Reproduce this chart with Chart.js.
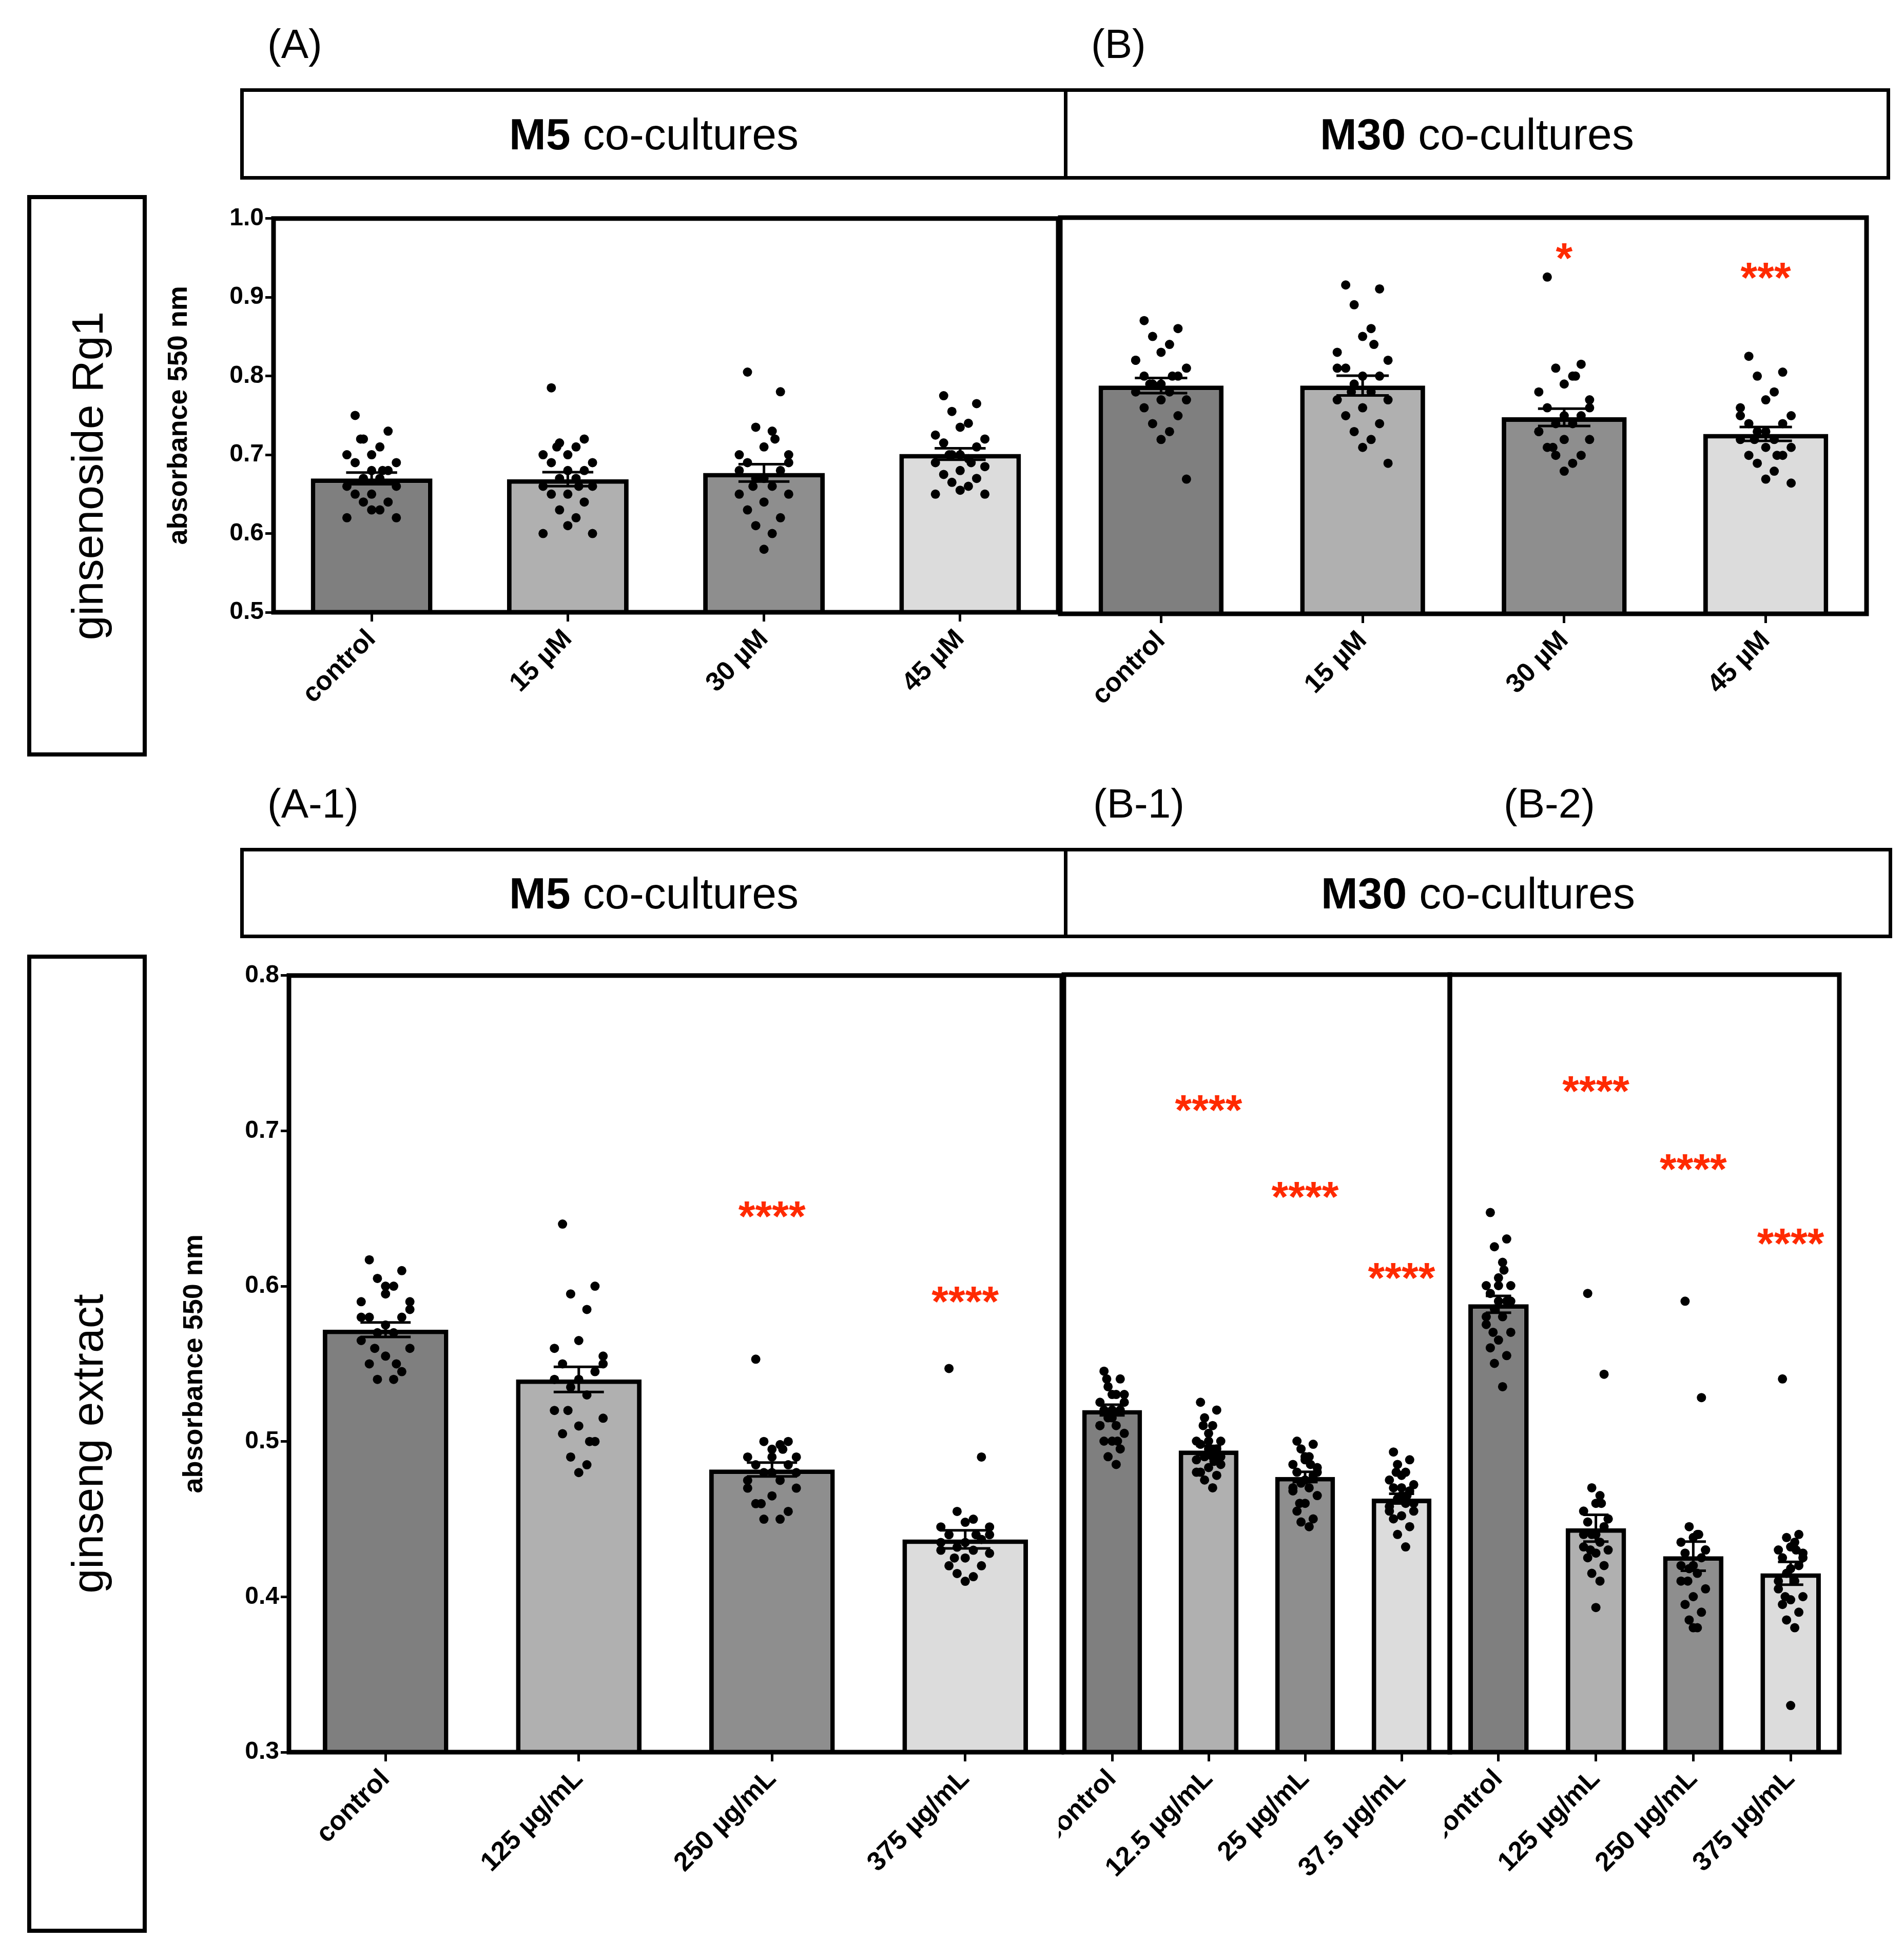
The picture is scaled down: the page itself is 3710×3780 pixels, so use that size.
<!DOCTYPE html>
<html><head><meta charset="utf-8">
<script src="https://cdn.jsdelivr.net/npm/chart.js@4/dist/chart.umd.min.js"></script>
<style>
body{margin:0;width:3710px;height:3780px;background:#fff;position:relative;font-family:"Liberation Sans",Arial,sans-serif;overflow:hidden}
.lbl{position:absolute;font-size:80px;color:#000}
.hbox{position:absolute;border:7px solid #000;box-sizing:border-box;display:flex;align-items:center;justify-content:center;font-size:86px}
.vbox{position:absolute;border:8px solid #000;box-sizing:border-box}
.vbox span{position:absolute;left:50%;top:50%;transform:translate(-50%,-50%) rotate(-90deg);white-space:nowrap;font-size:86px}
canvas{position:absolute}
</style></head><body>
<div class="lbl" style="left:521px;top:40px">(A)</div>
<div class="lbl" style="left:2126px;top:40px">(B)</div>
<div class="hbox" style="left:468px;top:172px;width:1612px;height:178px"><b>M5</b>&nbsp;co-cultures</div>
<div class="hbox" style="left:2073px;top:172px;width:1610px;height:178px"><b>M30</b>&nbsp;co-cultures</div>
<div class="vbox" style="left:53px;top:380px;width:233px;height:1094px"><span>ginsenoside Rg1</span></div>
<div class="lbl" style="left:521px;top:1520px">(A-1)</div>
<div class="lbl" style="left:2130px;top:1520px">(B-1)</div>
<div class="lbl" style="left:2930px;top:1520px">(B-2)</div>
<div class="hbox" style="left:468px;top:1652px;width:1612px;height:176px"><b>M5</b>&nbsp;co-cultures</div>
<div class="hbox" style="left:2073px;top:1652px;width:1614px;height:176px"><b>M30</b>&nbsp;co-cultures</div>
<div class="vbox" style="left:53px;top:1860px;width:233px;height:1906px"><span>ginseng extract</span></div>
<canvas id="cA"></canvas><canvas id="cB"></canvas><canvas id="cA1"></canvas><canvas id="cB1"></canvas><canvas id="cB2"></canvas>
<script>
const colors=['#7f7f7f','#b0b0b0','#8e8e8e','#dcdcdc'];
const catsRg1=['control','15 µM','30 µM','45 µM'];
const catsA1=['control','125 µg/mL','250 µg/mL','375 µg/mL'];
const catsB1=['control','12.5 µg/mL','25 µg/mL','37.5 µg/mL'];
const catsB2=['control','125 µg/mL','250 µg/mL','375 µg/mL'];
const meansA=[0.670,0.669,0.677,0.701];
const dotsA=[
[0.75,0.73,0.72,0.71,0.70,0.70,0.69,0.69,0.68,0.68,0.67,0.67,0.66,0.66,0.65,0.65,0.64,0.64,0.63,0.63,0.62,0.62,0.72,0.68],
[0.785,0.72,0.715,0.71,0.70,0.70,0.69,0.69,0.68,0.68,0.67,0.67,0.66,0.66,0.65,0.65,0.64,0.63,0.62,0.61,0.60,0.60,0.71,0.66],
[0.805,0.78,0.735,0.73,0.71,0.70,0.69,0.69,0.68,0.67,0.67,0.66,0.65,0.65,0.64,0.63,0.62,0.61,0.60,0.58,0.70,0.68,0.66,0.72],
[0.775,0.765,0.755,0.74,0.735,0.725,0.72,0.715,0.71,0.70,0.70,0.695,0.69,0.685,0.68,0.675,0.67,0.665,0.66,0.655,0.65,0.65,0.70,0.69]];
const meansB=[0.788,0.788,0.748,0.727];
const dotsB=[
[0.87,0.86,0.85,0.84,0.83,0.82,0.81,0.80,0.80,0.79,0.79,0.78,0.78,0.77,0.77,0.76,0.75,0.74,0.73,0.72,0.67,0.82,0.79,0.80],
[0.915,0.91,0.89,0.86,0.85,0.83,0.82,0.81,0.80,0.80,0.79,0.78,0.77,0.77,0.76,0.75,0.74,0.73,0.72,0.71,0.69,0.81,0.78,0.84],
[0.925,0.815,0.81,0.80,0.79,0.78,0.77,0.76,0.75,0.75,0.74,0.74,0.73,0.72,0.72,0.71,0.70,0.70,0.69,0.68,0.76,0.73,0.71,0.80],
[0.825,0.805,0.80,0.78,0.77,0.76,0.75,0.74,0.74,0.73,0.73,0.72,0.72,0.71,0.71,0.70,0.70,0.69,0.68,0.67,0.665,0.75,0.72,0.70]];
const starsB=['','','*','***'];const starYB=[0,0,0.955,0.93];
const meansA1=[0.572,0.540,0.482,0.437];
const dotsA1=[
[0.617,0.61,0.605,0.60,0.595,0.59,0.585,0.58,0.58,0.575,0.57,0.57,0.565,0.56,0.555,0.55,0.545,0.54,0.54,0.6,0.59,0.58,0.56,0.55],
[0.64,0.60,0.595,0.585,0.565,0.56,0.555,0.55,0.545,0.54,0.535,0.53,0.52,0.515,0.51,0.505,0.50,0.49,0.485,0.48,0.55,0.54,0.52,0.50],
[0.553,0.50,0.50,0.498,0.495,0.49,0.49,0.485,0.485,0.48,0.48,0.475,0.475,0.47,0.465,0.46,0.455,0.45,0.45,0.49,0.48,0.47,0.46,0.495],
[0.547,0.49,0.455,0.45,0.448,0.445,0.44,0.44,0.437,0.435,0.432,0.43,0.43,0.428,0.425,0.42,0.42,0.415,0.413,0.41,0.445,0.435,0.425,0.44]];
const starsA1=['','','****','****'];const starYA1=[0,0,0.648,0.593];
const meansB1=[0.520,0.494,0.477,0.463];
const dotsB1=[
[0.545,0.54,0.535,0.53,0.53,0.525,0.525,0.52,0.52,0.515,0.515,0.51,0.51,0.505,0.50,0.50,0.495,0.49,0.485,0.52,0.53,0.51,0.54,0.50],
[0.525,0.52,0.515,0.51,0.505,0.50,0.50,0.498,0.495,0.495,0.49,0.49,0.488,0.485,0.483,0.48,0.478,0.475,0.47,0.50,0.49,0.48,0.51,0.487],
[0.50,0.498,0.495,0.49,0.488,0.485,0.483,0.48,0.478,0.475,0.473,0.47,0.468,0.465,0.46,0.455,0.45,0.448,0.445,0.49,0.48,0.47,0.46,0.485],
[0.493,0.488,0.485,0.48,0.478,0.475,0.472,0.47,0.468,0.465,0.463,0.46,0.458,0.455,0.452,0.45,0.445,0.44,0.432,0.47,0.46,0.455,0.48,0.465]];
const starsB1=['','****','****','****'];const starYB1=[0,0.716,0.66,0.608];
const meansB2=[0.588,0.444,0.426,0.415];
const dotsB2=[
[0.647,0.63,0.625,0.615,0.605,0.60,0.60,0.595,0.59,0.59,0.585,0.58,0.575,0.57,0.565,0.56,0.555,0.55,0.535,0.6,0.59,0.58,0.57,0.61],
[0.595,0.543,0.47,0.465,0.46,0.455,0.45,0.448,0.445,0.44,0.44,0.435,0.432,0.43,0.428,0.425,0.42,0.415,0.41,0.393,0.45,0.44,0.43,0.46],
[0.59,0.528,0.445,0.44,0.438,0.435,0.43,0.428,0.425,0.42,0.418,0.415,0.41,0.405,0.40,0.395,0.39,0.385,0.38,0.38,0.43,0.42,0.41,0.44],
[0.54,0.44,0.438,0.435,0.432,0.43,0.428,0.425,0.42,0.418,0.415,0.41,0.405,0.40,0.398,0.395,0.39,0.385,0.38,0.33,0.425,0.41,0.40,0.43]];
const starsB2=['','****','****','****'];const starYB2=[0,0.728,0.678,0.63];
const jit=[-0.3,0.3,-0.15,0.15,0,-0.45,0.45,-0.3,0.3,0,-0.15,0.15,-0.45,0.45,0,-0.3,0.3,-0.15,0.15,0,0.45,-0.45,-0.2,0.2];

function make(id,o){
  const plotW=o.pr-o.pl, plotH=o.pb-o.pt, yw=o.yaxis?220:0, padL=o.yaxis?0:10;
  const c=document.getElementById(id);
  const W=yw+padL+plotW+10, H=30+plotH+380;
  c.width=W;c.height=H;c.style.left=(o.pl-yw-padL)+'px';c.style.top=(o.pt-30)+'px';
  const plug={id:'x',afterDatasetsDraw(ch){
    const g=ch.ctx,x=ch.scales.x,y=ch.scales.y,a=ch.chartArea;
    const bw=x.getPixelForValue(1)-x.getPixelForValue(0);
    o.dots.forEach((d,i)=>{
      const cx=x.getPixelForValue(i),m=o.means[i];
      const sd=Math.sqrt(d.reduce((s,v)=>s+(v-m)*(v-m),0)/(d.length-1)),se=sd/Math.sqrt(d.length);
      g.fillStyle='#000';
      d.forEach((v,k)=>{g.beginPath();g.arc(cx+jit[k%jit.length]*bw*0.28,y.getPixelForValue(v),9,0,7);g.fill();});
      g.strokeStyle='#000';g.lineWidth=5;const cw=bw*0.13;
      const y1=y.getPixelForValue(m+se),y2=y.getPixelForValue(m-se);
      g.beginPath();g.moveTo(cx,y1);g.lineTo(cx,y2);g.moveTo(cx-cw,y1);g.lineTo(cx+cw,y1);g.moveTo(cx-cw,y2);g.lineTo(cx+cw,y2);g.stroke();
      if(o.stars&&o.stars[i]){g.fillStyle='#ff2a00';g.font='bold 84px "Liberation Sans"';g.textAlign='center';g.textBaseline='middle';g.fillText(o.stars[i],cx,y.getPixelForValue(o.starY[i])+15);}
    });
    g.strokeStyle='#000';g.lineWidth=9;g.strokeRect(a.left,a.top,a.right-a.left,a.bottom-a.top);
  }};
  new Chart(c,{type:'bar',data:{labels:o.cats,datasets:[{data:o.means,backgroundColor:colors,borderColor:'#000',borderWidth:9,borderSkipped:false,barPercentage:o.bp,categoryPercentage:1}]},
    options:{responsive:false,devicePixelRatio:1,animation:false,layout:{padding:{top:30,right:10,left:padL}},
      plugins:{legend:{display:false},tooltip:{enabled:false}},
      scales:{
        x:{afterFit:s=>{s.height=380;s.paddingLeft=0;s.paddingRight=0},grid:{display:true,drawOnChartArea:false,offset:false,color:'#000',lineWidth:5,tickLength:18},border:{display:false},
          ticks:{color:'#000',font:{size:52,weight:'bold',family:'Liberation Sans'},maxRotation:45,minRotation:45,padding:4}},
        y:{display:o.yaxis,min:o.min,max:o.max,afterFit:s=>{s.width=yw},border:{display:false},
          grid:{display:true,drawOnChartArea:false,color:'#000',lineWidth:5,tickLength:16},
          ticks:{stepSize:0.1,color:'#000',font:{size:48,weight:'bold',family:'Liberation Sans'},callback:v=>v.toFixed(1)},
          title:{display:true,text:'absorbance 550 nm',color:'#000',font:{size:54,weight:'bold',family:'Liberation Sans'}}}}},
    plugins:[plug]});
}
make('cA',{pl:533,pr:2062,pt:424,pb:1193,yaxis:true,min:0.5,max:1.0,cats:catsRg1,means:meansA,dots:dotsA,bp:0.62});
make('cB',{pl:2066,pr:3637,pt:424,pb:1196,yaxis:false,min:0.5,max:1.0,cats:catsRg1,means:meansB,dots:dotsB,stars:starsB,starY:starYB,bp:0.62});
make('cA1',{pl:563,pr:2069,pt:1899,pb:3414,yaxis:true,min:0.3,max:0.8,cats:catsA1,means:meansA1,dots:dotsA1,stars:starsA1,starY:starYA1,bp:0.65});
make('cB1',{pl:2073,pr:2825,pt:1899,pb:3414,yaxis:false,min:0.3,max:0.8,cats:catsB1,means:meansB1,dots:dotsB1,stars:starsB1,starY:starYB1,bp:0.62});
make('cB2',{pl:2825,pr:3584,pt:1899,pb:3414,yaxis:false,min:0.3,max:0.8,cats:catsB2,means:meansB2,dots:dotsB2,stars:starsB2,starY:starYB2,bp:0.62});
</script></body></html>
